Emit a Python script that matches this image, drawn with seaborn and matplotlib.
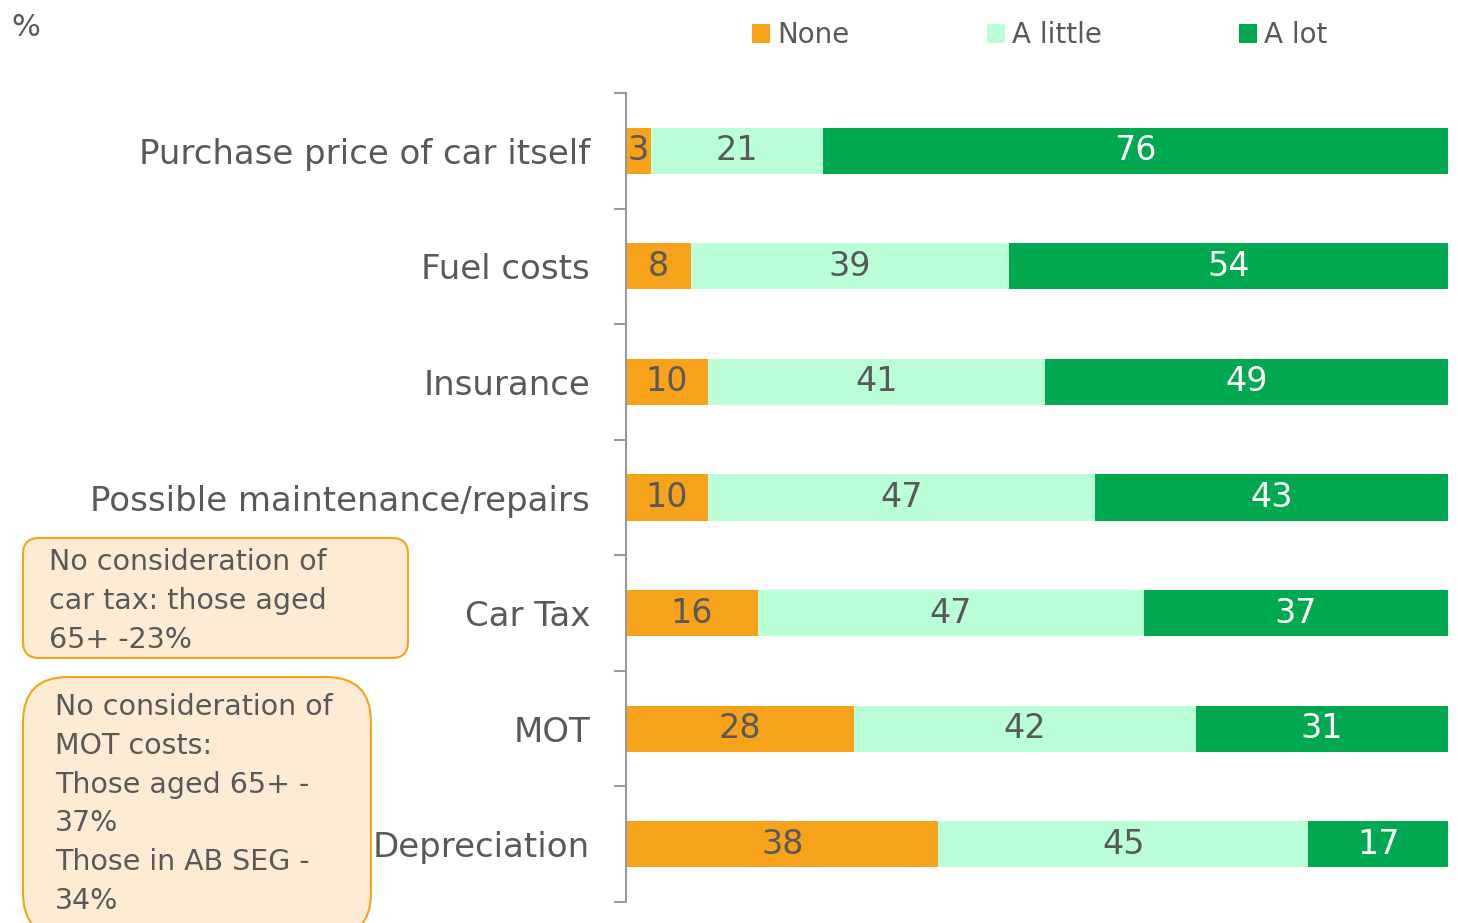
import numpy as np
import pandas as pd
import matplotlib.pyplot as plt
import seaborn as sns
from matplotlib.patches import Patch, FancyBboxPatch

# ==========================================================
# DATA
# ==========================================================
categories = [
    "Purchase price of car itself",
    "Fuel costs",
    "Insurance",
    "Possible maintenance/repairs",
    "Car Tax",
    "MOT",
    "Depreciation",
]
series_names = ["None", "A little", "A lot"]
none_vals = [3, 8, 10, 10, 16, 28, 38]
little_vals = [21, 39, 41, 47, 47, 42, 45]
lot_vals = [76, 54, 49, 43, 37, 31, 17]

colors = ["#F7A21B", "#BBFFD9", "#00A850"]
label_colors = ["#595959", "#595959", "white"]
text_grey = "#595959"

df = pd.DataFrame({
    "Category": categories,
    "None": none_vals,
    "A little": little_vals,
    "A lot": lot_vals,
})

# rows are scaled to 100 so every bar spans the full width
totals = df[series_names].sum(axis=1)
shares = df[series_names].div(totals, axis=0) * 100
cum = shares.cumsum(axis=1)

# ==========================================================
# PLOT
# ==========================================================
sns.set_style("white")
plt.rcParams["font.family"] = ["DejaVu Sans"]

fig = plt.figure(figsize=(14.58, 9.23), dpi=100)
ax = fig.add_axes([626 / 1458, 21 / 923, 822 / 1458, 809 / 923])

# draw cumulative bars from the widest to the narrowest
for name, color in reversed(list(zip(series_names, colors))):
    sns.barplot(x=cum[name], y=df["Category"], orient="h", color=color,
                width=0.4, saturation=1, ax=ax, linewidth=0)

# value labels
for i in range(len(categories)):
    for name, tc in zip(series_names, label_colors):
        start = cum[name].iloc[i] - shares[name].iloc[i]
        mid = start + shares[name].iloc[i] / 2
        ax.text(mid, i, str(df[name].iloc[i]), ha="center", va="center",
                fontsize=24, color=tc)

ax.set_xlim(0, 100)
ax.set_ylim(len(categories) - 0.5, -0.5)
ax.set_xlabel("")
ax.set_ylabel("")
ax.set_xticks([])

for side in ["top", "right", "bottom"]:
    ax.spines[side].set_visible(False)
ax.spines["left"].set_color("#999999")
ax.spines["left"].set_linewidth(1.5)

ax.set_yticks(range(len(categories)))
ax.set_yticklabels(categories, fontsize=24.5, color=text_grey)
ax.set_yticks(np.arange(-0.5, len(categories), 1), minor=True)
ax.tick_params(axis="y", which="major", length=0, pad=26)
ax.tick_params(axis="y", which="minor", length=9, width=1.5,
               color="#999999", direction="out", left=True)

# legend
handles = [Patch(facecolor=c, edgecolor="none") for c in colors]
fig.legend(handles, series_names, loc="center left",
           bbox_to_anchor=(727 / 1458, 1 - 35 / 923), ncol=3, frameon=False,
           fontsize=20, labelcolor=text_grey, handlelength=0.65,
           handleheight=0.65, handletextpad=0.25, columnspacing=4.95)

fig.text(11 / 1458, 1 - 27 / 923, "%", fontsize=22, color=text_grey,
         va="center", ha="left")

# ==========================================================
# ANNOTATION BOXES
# ==========================================================
box_style = dict(facecolor="#FDEBD3", edgecolor="#F7A21B", linewidth=1.5,
                 transform=fig.dpi_scale_trans, clip_on=False)
box1 = FancyBboxPatch((0.23, 2.65), 3.85, 1.20,
                      boxstyle="round,pad=0,rounding_size=0.16", **box_style)
box2 = FancyBboxPatch((0.23, -0.15), 3.48, 2.61,
                      boxstyle="round,pad=0,rounding_size=0.45", **box_style)
fig.patches.extend([box1, box2])

fig.text(49 / 1458, 1 - 548 / 923,
         "No consideration of\ncar tax: those aged\n65+ -23%",
         fontsize=20.5, color=text_grey, ha="left", va="top",
         linespacing=1.49)
fig.text(55 / 1458, 1 - 693 / 923,
         "No consideration of\nMOT costs:\nThose aged 65+ -\n37%\n"
         "Those in AB SEG -\n34%",
         fontsize=20.5, color=text_grey, ha="left", va="top",
         linespacing=1.49)

plt.savefig("out.png", dpi=100)
plt.close()
